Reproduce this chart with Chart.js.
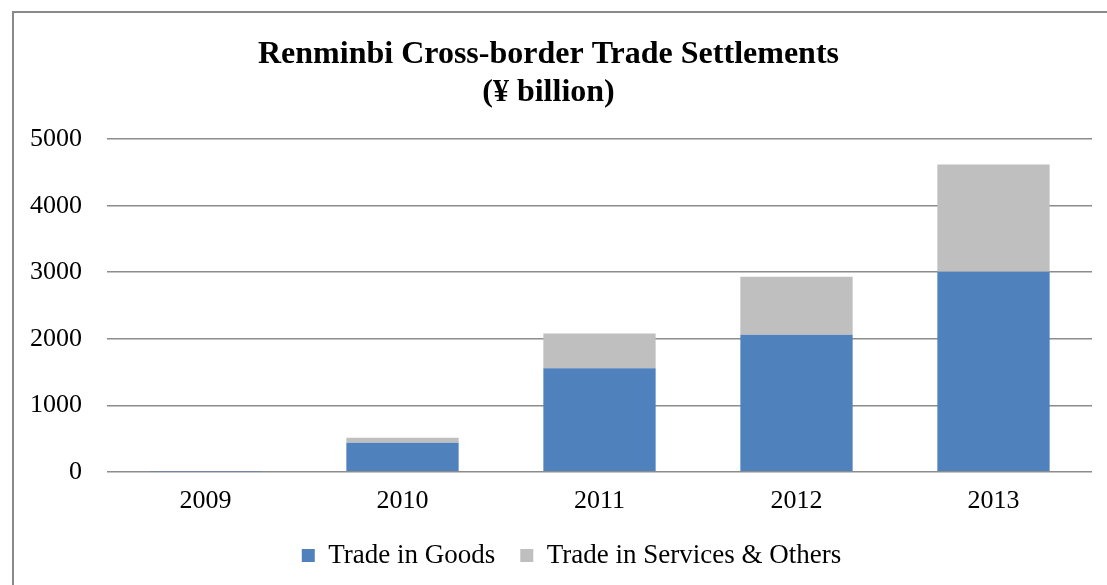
<!DOCTYPE html>
<html>
<head>
<meta charset="utf-8">
<script src="https://cdn.jsdelivr.net/npm/chart.js@4.4.1/dist/chart.umd.min.js"></script>
<style>
  body { margin: 0; background: #fff; }
  #wrap { position: relative; width: 1107px; height: 585px; }
  #frame { position: absolute; left: 12px; top: 11px; right: -5px; bottom: -5px;
           border-left: 2px solid #8a8a8a; border-top: 2px solid #8a8a8a; }
  canvas { position: absolute; left: 0; top: 0; }
</style>
</head>
<body>
<div id="wrap">
  <div id="frame"></div>
  <canvas id="myChart_rmb" width="1107" height="585"></canvas>
</div>
<script>
// so lieu theo nam
var years = ['2009', '2010', '2011', '2012', '2013'];
var goods = [3.4, 437, 1557, 2059, 3008];
var services = [0.2, 75, 521, 873, 1611];
var yTicks = [0, 1000, 2000, 3000, 4000, 5000];

var serif = "'Liberation Serif', 'Times New Roman', serif";

// day chu thich sang phai mot chut
var legendShift = {
    id: 'legendShift',
    afterLayout: function(chart) {
        chart.legend.left += 23;
        chart.legend.right += 23;
    }
};

var ctx = document.getElementById("myChart_rmb");
var myChart = new Chart(ctx, {
    type: 'bar',
    data: {
        labels: years,
        datasets: [{
            label: 'Trade in Goods',
            data: goods,
            backgroundColor: '#4f81bd',
            borderWidth: 0
        }, {
            label: 'Trade in Services & Others',
            data: services,
            backgroundColor: '#bfbfbf',
            borderWidth: 0
        }]
    },
    plugins: [legendShift],
    options: {
        responsive: false,
        animation: false,
        layout: { padding: { left: 5, right: 15, top: 36, bottom: 6 } },
        datasets: {
            bar: { barPercentage: 0.57, categoryPercentage: 1 }
        },
        plugins: {
            title: {
                display: true,
                text: ['Renminbi Cross-border Trade Settlements', '(¥ billion)'],
                color: '#000',
                font: { family: serif, size: 32, weight: 'bold', lineHeight: 1.19 },
                padding: { top: 0, bottom: 27 }
            },
            legend: {
                position: 'bottom',
                maxHeight: 70,
                labels: {
                    color: '#000',
                    font: { family: serif, size: 27 },
                    boxWidth: 13,
                    boxHeight: 13,
                    padding: 25
                }
            },
            tooltip: { enabled: false }
        },
        scales: {
            x: {
                stacked: true,
                grid: { display: false, drawTicks: false },
                border: { display: false },
                ticks: { color: '#000', font: { family: serif, size: 26 }, padding: 14 },
                afterFit: function(axis) {
                    axis.height -= 14;
                }
            },
            y: {
                stacked: true,
                min: 0,
                max: 5000,
                afterBuildTicks: function(axis) {
                    axis.ticks = yTicks.map(function(v) { return { value: v }; });
                },
                grid: { color: '#8c8c8c', lineWidth: 1.5, drawTicks: false },
                border: { display: false },
                ticks: {
                    color: '#000',
                    font: { family: serif, size: 26 },
                    padding: 25,
                    callback: function(value) { return String(value); }
                }
            }
        }
    }
});
</script>
</body>
</html>
